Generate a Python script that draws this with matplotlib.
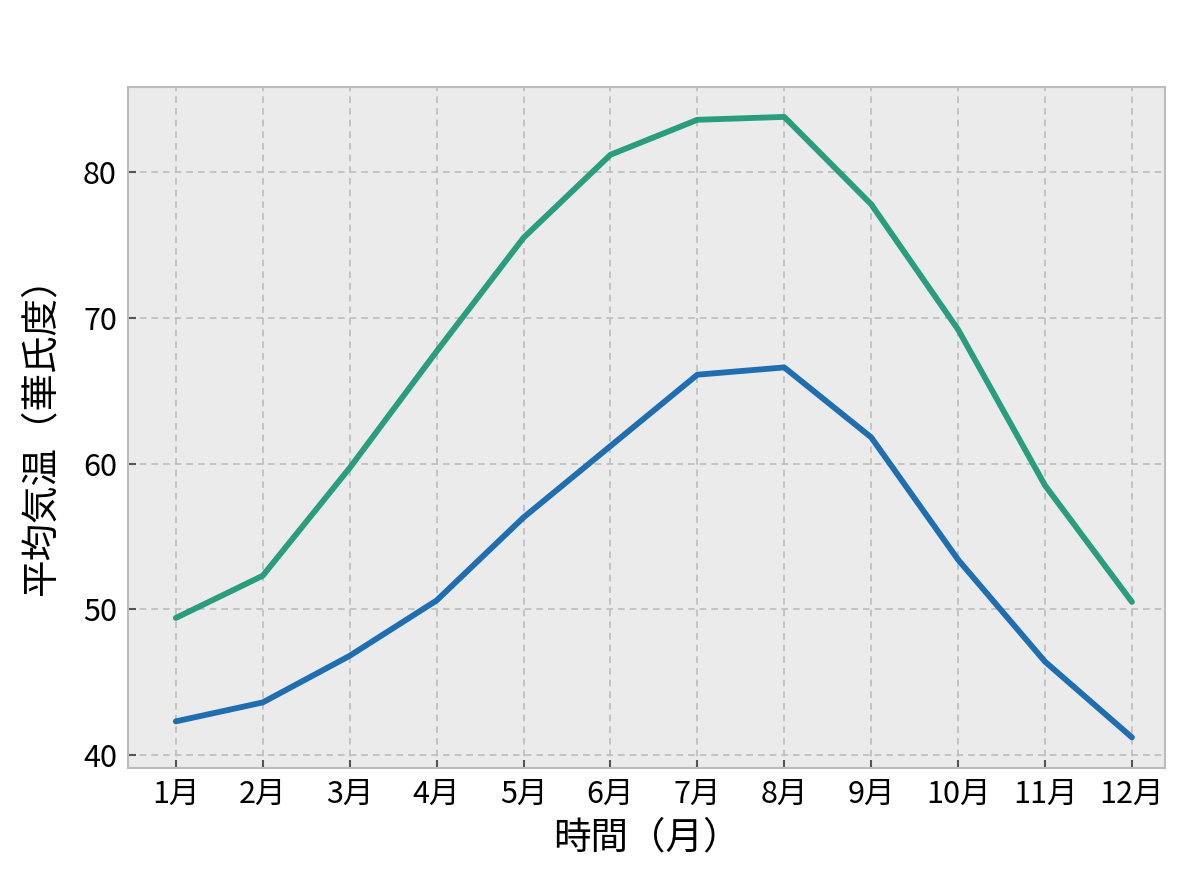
import matplotlib
matplotlib.use("Agg")
import matplotlib.pyplot as plt

plt.rcParams['font.family'] = ['Noto Sans CJK JP', 'DejaVu Sans']

months = ['1月', '2月', '3月', '4月', '5月', '6月', '7月', '8月', '9月', '10月', '11月', '12月']
high_temp = [49.4, 52.3, 59.7, 67.7, 75.5, 81.2, 83.6, 83.8, 77.8, 69.2, 58.5, 50.5]
low_temp = [42.3, 43.6, 46.8, 50.6, 56.3, 61.2, 66.1, 66.6, 61.8, 53.4, 46.4, 41.2]
y_ticks = [40, 50, 60, 70, 80]

fig = plt.figure(figsize=(12, 8.8), dpi=100)
ax = fig.add_axes([0.1067, 0.1273, 0.8641, 0.7738])
ax.set_facecolor('#ebebeb')

x = list(range(1, len(months) + 1))
ax.plot(x, high_temp, color='#2a9d7e', linewidth=4.2, solid_capstyle='round')
ax.plot(x, low_temp, color='#1f6eb0', linewidth=4.2, solid_capstyle='round')

ax.set_xlim(0.45, 12.38)
ax.set_ylim(39.1, 85.85)
ax.set_xticks(x)
ax.set_xticklabels(months)
ax.set_yticks(y_ticks)

ax.grid(True, linestyle=(0, (4, 3)), color='#bdbdbd', linewidth=1.2)
ax.set_axisbelow(True)
for s in ax.spines.values():
    s.set_color('#bcbcbc')
    s.set_linewidth(1.5)

ax.tick_params(direction='in', length=6, width=1.5, color='#555555',
               labelsize=22, pad=8)
ax.set_xlabel('時間（月）', fontsize=27, labelpad=6)
ax.set_ylabel('平均気温（華氏度）', fontsize=27, labelpad=16)

fig.savefig('out.png', dpi=100, facecolor='white')
